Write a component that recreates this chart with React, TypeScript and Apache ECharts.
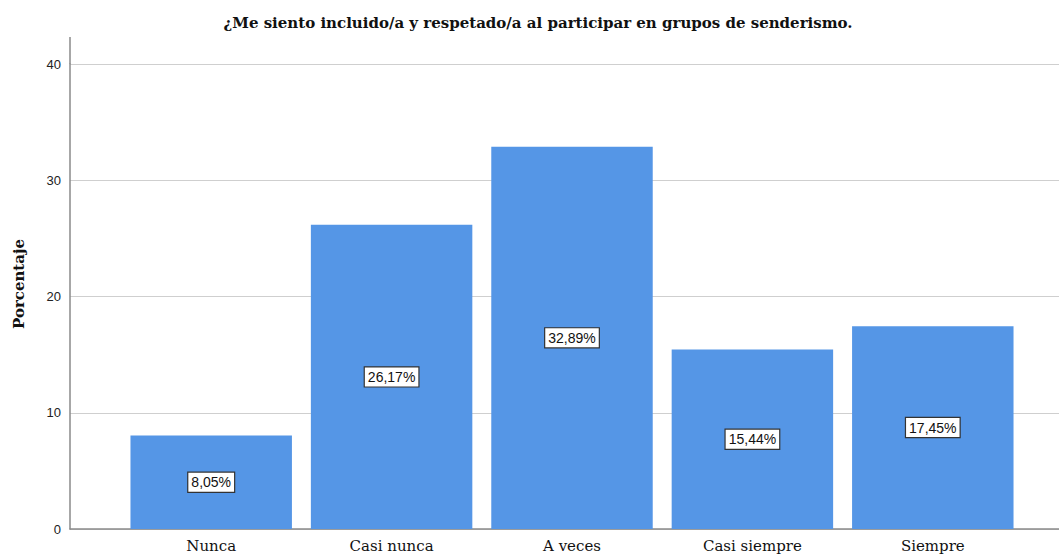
import React, { useEffect, useRef } from "react";
import * as echarts from "echarts";

const categories = ["Nunca", "Casi nunca", "A veces", "Casi siempre", "Siempre"];
const percentages = [8.05, 26.17, 32.89, 15.44, 17.45];
const yTicks = [0, 10, 20, 30, 40];
const titleText = "¿Me siento incluido/a y respetado/a al participar en grupos de senderismo.";
const yName = "Porcentaje";

export default function App() {
  const ref = useRef<HTMLDivElement>(null);
  useEffect(() => {
    if (!ref.current) return;
    const chart = echarts.init(ref.current, null, { renderer: "svg" });
    const yMin = yTicks[0];
    const yMax = yTicks[yTicks.length - 1];
    const interval = yTicks[1] - yTicks[0];
    chart.setOption({
      animation: false,
      backgroundColor: "#ffffff",
      grid: [
        { left: 70, right: 0, top: 64, bottom: 27 },
        { left: 121, right: 36, top: 64, bottom: 27 },
      ],
      xAxis: [
        {
          gridIndex: 0,
          type: "value",
          min: 0,
          max: 1,
          axisLine: { show: true, onZero: false, lineStyle: { color: "#8a8a8a", width: 1.5 } },
          axisTick: { show: false },
          axisLabel: { show: false },
          splitLine: { show: false },
        },
        {
          gridIndex: 1,
          type: "category",
          data: categories,
          axisLine: { show: false },
          axisTick: { show: false },
          axisLabel: {
            margin: 9,
            color: "#111",
            fontFamily: "DejaVu Serif",
            fontSize: 15,
          },
        },
      ],
      yAxis: [
        {
          gridIndex: 0,
          type: "value",
          min: yMin,
          max: yMax,
          interval,
          axisLine: { show: true, lineStyle: { color: "#8a8a8a", width: 1.5 } },
          axisTick: { show: false },
          axisLabel: {
            margin: 9,
            color: "#222",
            fontFamily: "Liberation Sans",
            fontSize: 13,
          },
          splitLine: { show: true, lineStyle: { color: "#cfcfcf", width: 1.2 } },
        },
        {
          gridIndex: 1,
          type: "value",
          min: yMin,
          max: yMax,
          interval,
          show: false,
          splitLine: { show: false },
        },
      ],
      series: [
        {
          type: "bar",
          xAxisIndex: 1,
          yAxisIndex: 1,
          data: percentages,
          barCategoryGap: "10.5%",
          itemStyle: { color: "#5596e6" },
          label: {
            show: true,
            position: "inside",
            formatter: (p: any) => p.value.toFixed(2).replace(".", ",") + "%",
            backgroundColor: "#ffffff",
            borderColor: "#333",
            borderWidth: 1.2,
            padding: [3, 3, 2, 3],
            color: "#111",
            fontFamily: "Liberation Sans",
            fontSize: 14,
          },
        },
      ],
      graphic: [
        {
          type: "line",
          shape: { x1: 70, y1: 37, x2: 70, y2: 64 },
          style: { stroke: "#8a8a8a", lineWidth: 1.5 },
        },
        {
          type: "text",
          x: 538,
          y: 23,
          style: {
            text: titleText,
            align: "center",
            verticalAlign: "middle",
            fontFamily: "DejaVu Serif",
            fontWeight: "bold",
            fontSize: 15,
            fill: "#111",
          },
        },
        {
          type: "text",
          x: 19,
          y: 284,
          rotation: Math.PI / 2,
          style: {
            text: yName,
            align: "center",
            verticalAlign: "middle",
            fontFamily: "DejaVu Serif",
            fontWeight: "bold",
            fontSize: 15,
            fill: "#111",
          },
        },
      ],
    });
    return () => chart.dispose();
  }, []);
  return (
    <div
      ref={ref}
      style={{ position: "fixed", left: 0, top: 0, width: 1059, height: 556 }}
    />
  );
}
